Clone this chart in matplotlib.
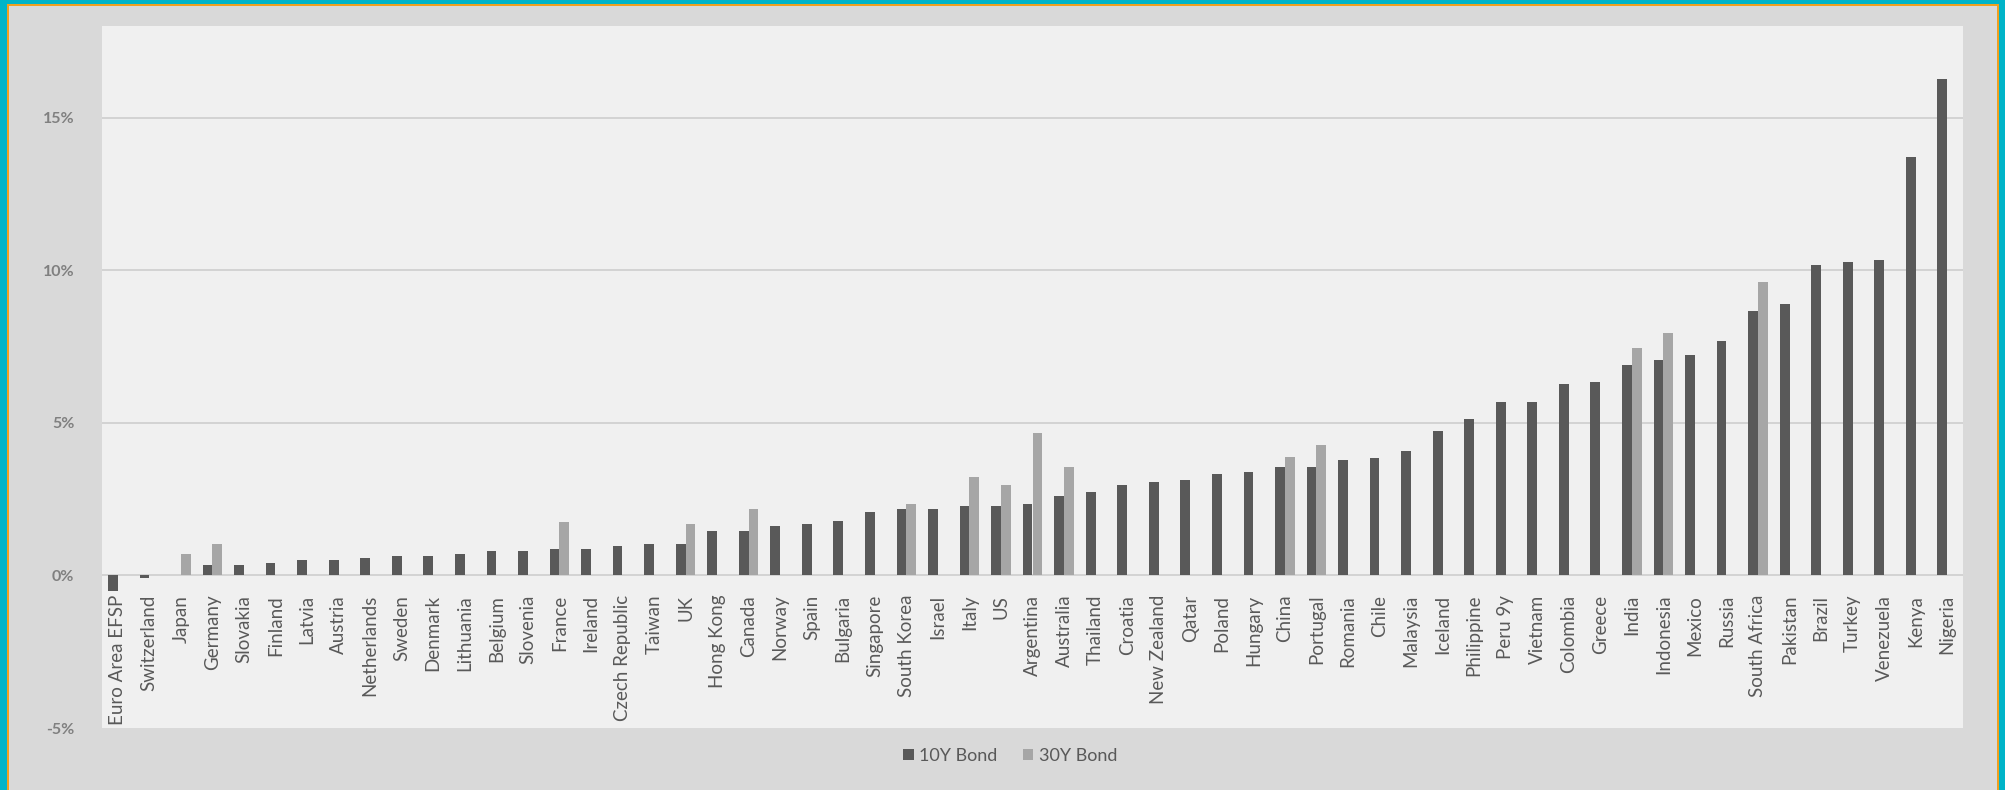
import numpy as np
import matplotlib
matplotlib.use("Agg")
import matplotlib.pyplot as plt
from matplotlib.patches import Rectangle
from matplotlib.ticker import FuncFormatter

plt.rcParams['font.family'] = ['Lato', 'DejaVu Sans']

countries = ['Euro Area EFSP', 'Switzerland', 'Japan', 'Germany', 'Slovakia', 'Finland',
             'Latvia', 'Austria', 'Netherlands', 'Sweden', 'Denmark', 'Lithuania',
             'Belgium', 'Slovenia', 'France', 'Ireland', 'Czech Republic', 'Taiwan',
             'UK', 'Hong Kong', 'Canada', 'Norway', 'Spain', 'Bulgaria', 'Singapore',
             'South Korea', 'Israel', 'Italy', 'US', 'Argentina', 'Australia',
             'Thailand', 'Croatia', 'New Zealand', 'Qatar', 'Poland', 'Hungary',
             'China', 'Portugal', 'Romania', 'Chile', 'Malaysia', 'Iceland',
             'Philippine', 'Peru 9y', 'Vietnam', 'Colombia', 'Greece', 'India',
             'Indonesia', 'Mexico', 'Russia', 'South Africa', 'Pakistan', 'Brazil',
             'Turkey', 'Venezuela', 'Kenya', 'Nigeria']

bond_10y = [-0.5, -0.1, 0.0, 0.33, 0.33, 0.41,
            0.49, 0.49, 0.58, 0.64, 0.64, 0.71,
            0.79, 0.79, 0.87, 0.87, 0.95, 1.04,
            1.04, 1.45, 1.45, 1.62, 1.70, 1.78, 2.09,
            2.18, 2.18, 2.26, 2.26, 2.35, 2.59,
            2.74, 2.97, 3.06, 3.14, 3.31, 3.39,
            3.55, 3.55, 3.79, 3.84, 4.09, 4.73,
            5.12, 5.68, 5.68, 6.26, 6.34, 6.90,
            7.06, 7.21, 7.68, 8.65, 8.90, 10.18,
            10.26, 10.34, 13.71, 16.27]

bond_30y = [None, None, 0.71, 1.04, None, None,
            None, None, None, None, None, None,
            None, None, 1.76, None, None, None,
            1.68, None, 2.18, None, None, None, None,
            2.35, None, 3.22, 2.97, 4.68, 3.54,
            None, None, None, None, None, None,
            3.87, 4.28, None, None, None, None,
            None, None, None, None, None, 7.46,
            7.93, None, None, 9.62, None, None,
            None, None, None, None]

y_ticks = [-5, 0, 5, 10, 15]

dark = '#595959'
light = '#a6a6a6'
W, H = 2005, 790

fig = plt.figure(figsize=(W / 100, H / 100), dpi=100, facecolor='#d9d9d9')
ax = fig.add_axes([102 / W, 1 - 728 / H, (1963 - 102) / W, (728 - 26) / H])
ax.set_facecolor('#f0f0f0')

x = np.arange(len(countries))
b30 = np.array([np.nan if v is None else v for v in bond_30y])
w = 0.31
ax.bar(x - w / 2, bond_10y, w, color=dark, label='10Y Bond', zorder=3)
ax.bar(x + w / 2, b30, w, color=light, label='30Y Bond', zorder=3)

ax.set_xlim(-0.5, len(countries) - 0.5)
ax.set_ylim(-5, 18)
ax.set_yticks(y_ticks)
ax.yaxis.set_major_formatter(FuncFormatter(lambda v, p: '{:d}%'.format(int(v))))
for g in [5, 10, 15]:
    ax.axhline(g, color='#d0d0d0', lw=1.3, zorder=1)
ax.axhline(0, color='#d0d0d0', lw=1.3, zorder=2)

for s in ['top', 'right', 'left']:
    ax.spines[s].set_visible(False)
ax.spines['bottom'].set_position(('data', 0))
ax.spines['bottom'].set_visible(False)

ax.set_xticks(x)
ax.set_xticklabels(countries, rotation=90, fontsize=13.5, color='#595959')
ax.tick_params(axis='x', length=0, pad=14)
ax.tick_params(axis='y', length=0, pad=20, labelsize=11.5, labelcolor='#808080')
for lab in ax.get_yticklabels():
    lab.set_fontweight('bold')

fig.legend(loc='center', bbox_to_anchor=(1010 / W, 1 - 756 / H), ncol=2, frameon=False,
           fontsize=13, labelcolor='#595959', handlelength=0.6, handleheight=0.6,
           handletextpad=0.3, columnspacing=1.4)

# outer frame: teal with thin orange inner line
teal = '#00b4c8'
orange = '#f0a020'
tr = fig.transFigure
for (x0, y0, ww, hh, c) in [(0, 0, 7, H, teal), (7, 0, 2, H - 4, orange),
                            (0, H - 4, W, 4, teal), (7, H - 6, W - 14, 2, orange),
                            (W - 6, 0, 6, H, teal), (W - 8, 0, 2, H - 4, orange)]:
    fig.patches.append(Rectangle((x0 / W, y0 / H), ww / W, hh / H, transform=tr,
                                 facecolor=c, edgecolor='none', zorder=10))

fig.savefig('out.png', dpi=100, facecolor=fig.get_facecolor())
